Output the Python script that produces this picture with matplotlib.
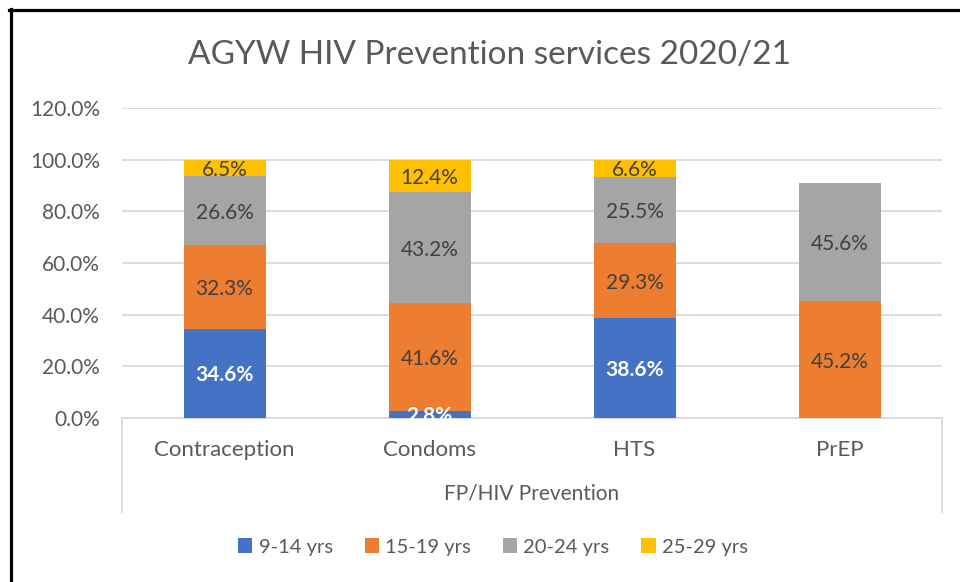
import numpy as np
import matplotlib.pyplot as plt
from matplotlib.lines import Line2D

plt.rcParams['font.family'] = ['Lato', 'DejaVu Sans']

categories = ['Contraception', 'Condoms', 'HTS', 'PrEP']
series = ['9-14 yrs', '15-19 yrs', '20-24 yrs', '25-29 yrs']
age_9_14 = [34.6, 2.8, 38.6, 0.0]
age_15_19 = [32.3, 41.6, 29.3, 45.2]
age_20_24 = [26.6, 43.2, 25.5, 45.6]
age_25_29 = [6.5, 12.4, 6.6, 0.0]
yticks = [0, 20, 40, 60, 80, 100, 120]

colors = ['#4472C4', '#ED7D31', '#A5A5A5', '#FFC000']
txt = '#595959'

fig = plt.figure(figsize=(9.6, 5.82), dpi=100)
ax = fig.add_axes([122/960, 1-418/582, 820/960, 310/582])

x = np.arange(len(categories))
bottom = np.zeros(len(categories))
for vals, name, c in zip([age_9_14, age_15_19, age_20_24, age_25_29], series, colors):
    vals = np.array(vals)
    ax.bar(x, vals, 0.4, bottom=bottom, color=c, label=name, zorder=3)
    for xi, v, b in zip(x, vals, bottom):
        if v <= 0:
            continue
        if name == '9-14 yrs':
            ax.text(xi, b + v/2 - 0.8, f'{v:.1f}%', ha='center', va='center',
                    color='white', fontsize=15, fontweight='bold', zorder=4)
        else:
            ax.text(xi, b + v/2 - 0.8, f'{v:.1f}%', ha='center', va='center',
                    color='#404040', fontsize=15, zorder=4)
    bottom = bottom + vals

ax.set_xlim(-0.5, 3.5)
ax.set_ylim(0, 120)
ax.set_yticks(yticks)
ax.set_yticklabels([f'{t:.1f}%' for t in yticks], color=txt, fontsize=15)
ax.set_xticks(x)
ax.set_xticklabels(categories, color=txt, fontsize=16)
ax.tick_params(length=0)
ax.tick_params(axis='y', pad=16)
ax.tick_params(axis='x', pad=16)
ax.grid(axis='y', color='#D9D9D9', linewidth=1.3, zorder=0)
for s in ['top', 'right', 'left']:
    ax.spines[s].set_visible(False)
ax.spines['bottom'].set_color('#D9D9D9')
ax.spines['bottom'].set_linewidth(1.3)

# category axis box
for xp in [122/960, 942/960]:
    fig.add_artist(Line2D([xp, xp], [1-418/582, 1-512/582], color='#D9D9D9', lw=1.3))

fig.text(532/960, 1-494/582, 'FP/HIV Prevention', ha='center', va='center',
         color=txt, fontsize=15)
fig.text(490/960, 1-55/582, 'AGYW HIV Prevention services 2020/21', ha='center',
         va='center', color=txt, fontsize=24)

fig.legend(loc='center', bbox_to_anchor=(493/960, 1-547/582), ncol=4, frameon=False,
           fontsize=14.5, labelcolor=txt, handlelength=0.7, handleheight=0.7,
           handletextpad=0.3, columnspacing=1.6)

# chart border
fig.add_artist(Line2D([10.5/960, 10.5/960], [0, 1-9/582], color='black', lw=2.3))
fig.add_artist(Line2D([9/960, 1], [1-9.5/582, 1-9.5/582], color='black', lw=2.3))

fig.savefig('out.png', dpi=100)
